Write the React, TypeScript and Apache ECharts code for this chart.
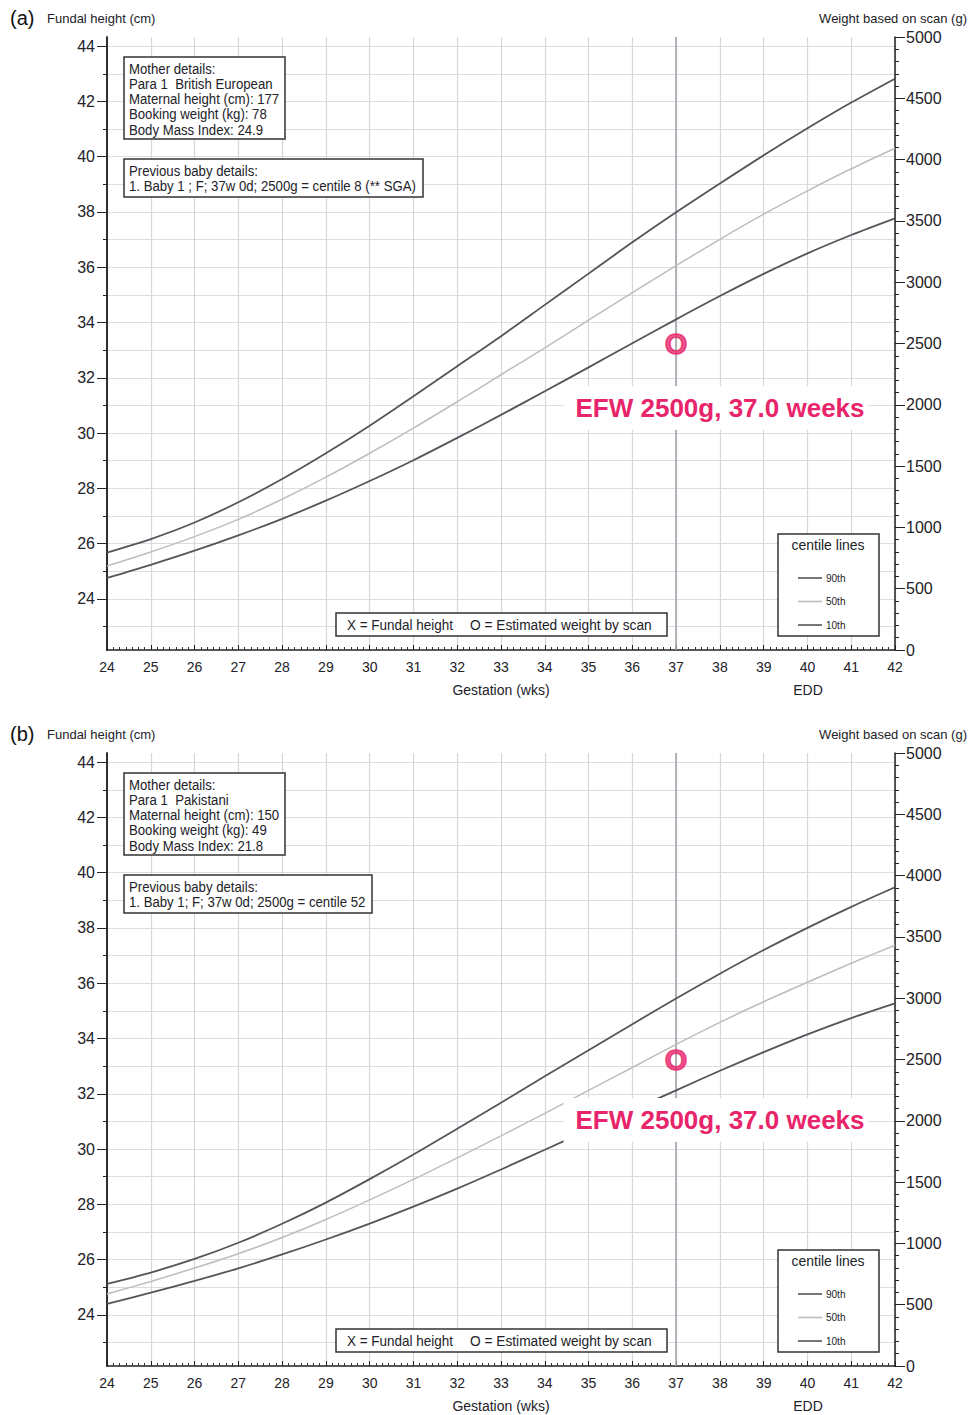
import React, { useEffect, useRef } from 'react';
import * as echarts from 'echarts';

// ---- data ----
const gestationWeeks = [24, 25, 26, 27, 28, 29, 30, 31, 32, 33, 34, 35, 36, 37, 38, 39, 40, 41, 42];

// Panel (a) centile curves, estimated fetal weight (g)
const panelA90 = [795, 905, 1040, 1205, 1395, 1605, 1830, 2070, 2315, 2560, 2815, 3070, 3325, 3570, 3805, 4035, 4255, 4465, 4660];
const panelA50 = [686, 800, 925, 1065, 1230, 1410, 1605, 1810, 2025, 2245, 2465, 2690, 2915, 3135, 3350, 3555, 3745, 3925, 4093];
const panelA10 = [588, 695, 810, 935, 1070, 1218, 1378, 1548, 1730, 1918, 2110, 2305, 2502, 2697, 2887, 3068, 3235, 3385, 3521];

// Panel (b) centile curves, estimated fetal weight (g)
const panelB90 = [670, 762, 873, 1005, 1160, 1333, 1524, 1725, 1935, 2148, 2363, 2576, 2788, 2998, 3200, 3393, 3574, 3745, 3905];
const panelB50 = [588, 690, 799, 916, 1048, 1195, 1355, 1522, 1698, 1877, 2061, 2248, 2435, 2623, 2803, 2971, 3130, 3285, 3432];
const panelB10 = [506, 598, 694, 797, 910, 1032, 1162, 1300, 1447, 1603, 1764, 1926, 2088, 2248, 2408, 2560, 2705, 2838, 2958];

// Scan point
const efwWeek = 37.0;
const efwGrams = 2500;

// Axis ticks
const fundalLabelValues = [24, 26, 28, 30, 32, 34, 36, 38, 40, 42, 44];
const fundalGridValues = [23, 24, 25, 26, 27, 28, 29, 30, 31, 32, 33, 34, 35, 36, 37, 38, 39, 40, 41, 42, 43, 44];

// Texts
const panelTags = ['(a)', '(b)'];
const motherDetailsA = ['Mother details:', 'Para 1  British European', 'Maternal height (cm): 177', 'Booking weight (kg): 78', 'Body Mass Index: 24.9'];
const babyDetailsA = ['Previous baby details:', '1. Baby 1 ; F; 37w 0d; 2500g = centile 8 (** SGA)'];
const motherDetailsB = ['Mother details:', 'Para 1  Pakistani', 'Maternal height (cm): 150', 'Booking weight (kg): 49', 'Body Mass Index: 21.8'];
const babyDetailsB = ['Previous baby details:', '1. Baby 1; F; 37w 0d; 2500g = centile 52'];
const centileNames = ['90th', '50th', '10th'];
const efwLabel = 'EFW 2500g, 37.0 weeks';

const SANS = "'Liberation Sans', Arial, sans-serif";
const DARK = '#555559';
const LIGHT = '#bdbdc0';
const PINK = '#e8246a';
const TXT = '#222228';

const PANEL_DY = 716;
const GRID_LEFT = 107;
const GRID_TOP = 37;
const GRID_W = 788;
const GRID_H = 613;
const NARROW_SCALE = 0.88;

function zip(xs: number[], ys: number[]) {
  return xs.map((x, i) => [x, ys[i]]);
}

function panelGraphics(p: number, mother: string[], baby: string[], babyBoxW: number) {
  const dy = p * PANEL_DY;
  const els: any[] = [];
  const txt = (text: string, x: number, y: number, size: number, opts: any = {}) => ({
    type: 'text',
    x,
    y: y + dy,
    z: 20,
    scaleX: opts.scaleX || 1,
    style: {
      text,
      fill: opts.fill || TXT,
      fontSize: size,
      fontFamily: SANS,
      fontWeight: opts.weight || 'normal',
      align: opts.align || 'left',
      verticalAlign: 'middle',
      ...(opts.extra || {}),
    },
  });
  const nar = { scaleX: NARROW_SCALE };
  els.push(txt(panelTags[p], 10, 18, 20, { fill: '#111' }));
  els.push(txt('Fundal height (cm)', 47, 18, 13));
  els.push(txt('Weight based on scan (g)', 967, 18, 13, { align: 'right' }));
  els.push(txt('Gestation (wks)', 501, 690, 14, { align: 'center' }));
  els.push(txt('EDD', 808, 690, 14, { align: 'center' }));

  // mother box
  els.push({ type: 'rect', z: 19, shape: { x: 124, y: 57 + dy, width: 161, height: 82 }, style: { fill: '#fff', stroke: '#333', lineWidth: 1.5 } });
  mother.forEach((t, i) => els.push(txt(t, 129, 68.5 + i * 15.2, 15, nar)));
  // baby box
  els.push({ type: 'rect', z: 19, shape: { x: 124, y: 159 + dy, width: babyBoxW, height: 38 }, style: { fill: '#fff', stroke: '#333', lineWidth: 1.5 } });
  baby.forEach((t, i) => els.push(txt(t, 129, 170.5 + i * 15.5, 15, nar)));

  // symbol legend box
  els.push({ type: 'rect', z: 19, shape: { x: 336, y: 613 + dy, width: 331, height: 23 }, style: { fill: '#fff', stroke: '#333', lineWidth: 1.5 } });
  els.push(txt('X = Fundal height', 347, 625, 15, { scaleX: 0.9 }));
  els.push(txt('O = Estimated weight by scan', 470, 625, 15, { scaleX: 0.915 }));

  // centile legend box
  els.push({ type: 'rect', z: 19, shape: { x: 778, y: 534 + dy, width: 101, height: 102 }, style: { fill: '#fff', stroke: '#333', lineWidth: 1.5 } });
  els.push(txt('centile lines', 828, 545, 14, { align: 'center' }));
  const legendColors = [DARK, LIGHT, DARK];
  centileNames.forEach((n, i) => {
    const ly = 578 + i * 23.5 + dy;
    els.push({ type: 'line', z: 20, shape: { x1: 798, y1: ly, x2: 822, y2: ly }, style: { stroke: legendColors[i], lineWidth: 1.6 } });
    els.push(txt(n, 826, 578 + i * 23.5, 10));
  });

  // EFW annotation with white backing
  els.push(txt(efwLabel, 716, p === 0 ? 408 : 1120 - PANEL_DY, 26, {
    weight: 'bold',
    fill: PINK,
    align: 'center',
    extra: { backgroundColor: '#ffffff', padding: [9, 4, 9, 12] },
  }));
  return els;
}

function buildOption() {
  const grids: any[] = [];
  const xAxes: any[] = [];
  const yAxes: any[] = [];
  const series: any[] = [];
  const graphics: any[] = [];
  const panels = [
    { c90: panelA90, c50: panelA50, c10: panelA10, mother: motherDetailsA, baby: babyDetailsA, babyW: 299 },
    { c90: panelB90, c50: panelB50, c10: panelB10, mother: motherDetailsB, baby: babyDetailsB, babyW: 248 },
  ];
  panels.forEach((pd, p) => {
    grids.push({ left: GRID_LEFT, top: GRID_TOP + p * PANEL_DY, width: GRID_W, height: GRID_H, containLabel: false });
    xAxes.push({
      type: 'value',
      gridIndex: p,
      min: 24,
      max: 42,
      interval: 1,
      axisLine: { show: true, onZero: false, lineStyle: { color: '#222', width: 1.5 } },
      axisTick: { show: true, inside: true, length: 5, lineStyle: { color: '#222', width: 1 } },
      minorTick: { show: true, splitNumber: 7, length: 3, lineStyle: { color: '#333', width: 1 } },
      axisLabel: { fontSize: 14, color: TXT, fontFamily: SANS, margin: 10 },
      splitLine: { show: true, lineStyle: { color: '#d6d6dc', width: 1.2 } },
    });
    // fundal height axis: grid lines + minor ticks
    yAxes.push({
      type: 'value',
      gridIndex: p,
      position: 'left',
      min: 22.15,
      max: 44.33,
      axisLine: { show: true, onZero: false, lineStyle: { color: '#222', width: 1.5 } },
      axisTick: { show: true, length: 4, customValues: fundalGridValues, lineStyle: { color: '#222' } },
      axisLabel: { show: false },
      splitLine: { show: true, lineStyle: { color: '#dcdce2', width: 1.2 } },
    });
    // fundal height axis: major ticks + labels
    yAxes.push({
      type: 'value',
      gridIndex: p,
      position: 'left',
      min: 22.15,
      max: 44.33,
      axisLine: { show: true, onZero: false, lineStyle: { color: '#222', width: 1.5 } },
      axisTick: { show: true, length: 10, customValues: fundalLabelValues, lineStyle: { color: '#222' } },
      axisLabel: { show: true, customValues: fundalLabelValues, fontSize: 16, color: TXT, fontFamily: SANS, margin: 12 },
      splitLine: { show: false },
    });
    // weight axis
    yAxes.push({
      type: 'value',
      gridIndex: p,
      position: 'right',
      min: 0,
      max: 5000,
      interval: 500,
      axisLine: { show: true, onZero: false, lineStyle: { color: '#222', width: 1.5 } },
      axisTick: { show: true, length: 10, lineStyle: { color: '#222' } },
      minorTick: { show: true, splitNumber: 5, length: 4, lineStyle: { color: '#222' } },
      axisLabel: { show: true, fontSize: 16, color: TXT, fontFamily: SANS, margin: 11, formatter: (v: number) => String(v) },
      splitLine: { show: false },
    });
    const wAxis = p * 3 + 2;
    const curves = [
      { name: '90th', data: pd.c90, color: DARK, width: 1.8 },
      { name: '50th', data: pd.c50, color: LIGHT, width: 1.5 },
      { name: '10th', data: pd.c10, color: DARK, width: 1.8 },
    ];
    curves.forEach((c) => {
      series.push({
        type: 'line',
        name: c.name,
        xAxisIndex: p,
        yAxisIndex: wAxis,
        data: zip(gestationWeeks, c.data),
        smooth: 0.3,
        showSymbol: false,
        lineStyle: { color: c.color, width: c.width },
        z: 3,
      });
    });
    series.push({
      type: 'scatter',
      name: 'EFW',
      xAxisIndex: p,
      yAxisIndex: wAxis,
      data: [[efwWeek, efwGrams]],
      symbolSize: 1,
      itemStyle: { color: 'rgba(0,0,0,0)' },
      z: 10,
      label: {
        show: true,
        position: 'inside',
        formatter: 'O',
        fontSize: 29,
        fontWeight: 'bold',
        fontFamily: SANS,
        color: PINK,
        textBorderColor: PINK,
        textBorderWidth: 1.4,
      },
      markLine: {
        silent: true,
        symbol: 'none',
        label: { show: false },
        lineStyle: { color: '#a4a4aa', width: 1.6, type: 'solid' },
        data: [{ xAxis: efwWeek }],
        z: 1,
      },
    });
    graphics.push(...panelGraphics(p, pd.mother, pd.baby, pd.babyW));
  });
  return {
    animation: false,
    backgroundColor: '#ffffff',
    grid: grids,
    xAxis: xAxes,
    yAxis: yAxes,
    series,
    graphic: { elements: graphics },
  };
}

export default function App() {
  const ref = useRef<HTMLDivElement>(null);
  useEffect(() => {
    if (!ref.current) return;
    const chart = echarts.init(ref.current, null, { renderer: 'svg' });
    chart.setOption(buildOption() as any);
    return () => chart.dispose();
  }, []);
  return (
    <div
      ref={ref}
      style={{ position: 'absolute', left: 0, top: 0, width: 968, height: 1415, background: '#fff' }}
    />
  );
}
